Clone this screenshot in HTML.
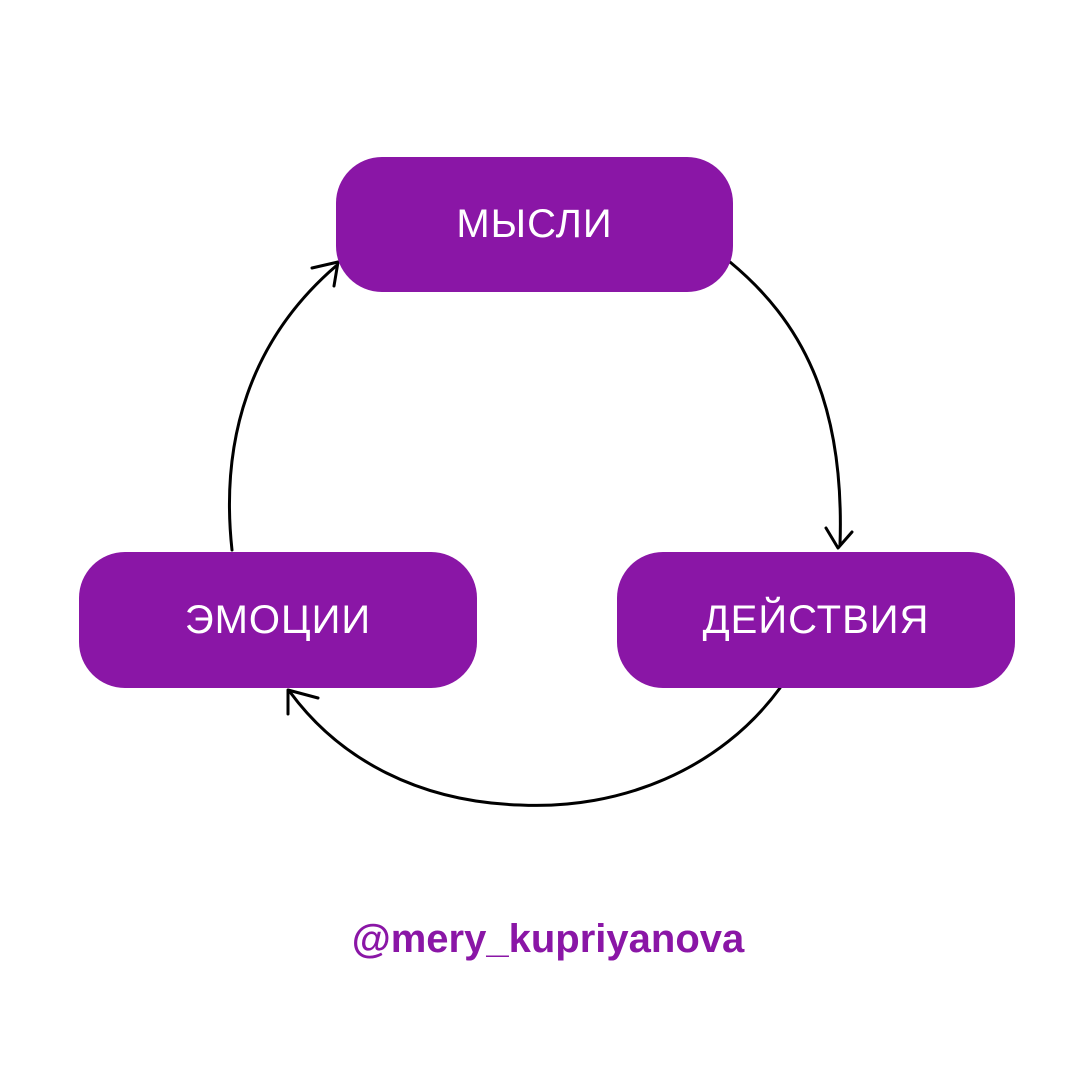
<!DOCTYPE html>
<html><head><meta charset="utf-8"><style>
html,body{margin:0;padding:0;background:#fff}
.w{position:relative;width:1080px;height:1080px;overflow:hidden;background:#fff}
.b{position:absolute;background:#8A16A6;border-radius:46px;color:#fff;font-family:"Liberation Sans",sans-serif;font-size:40px;font-weight:normal;display:flex;align-items:center;justify-content:center;letter-spacing:1px}
.h{position:absolute;left:0;width:1096px;top:917px;text-align:center;color:#8A16A6;font-family:"Liberation Sans",sans-serif;font-weight:bold;font-size:40px}
</style></head><body><div class="w">
<svg width="1080" height="1080" style="position:absolute;left:0;top:0" fill="none" stroke="#000" stroke-width="3" stroke-linecap="round" stroke-linejoin="round">
<path d="M730 262 C800 320 845 400 840 545"/>
<path d="M826 528 L838 548 L852 532"/>
<path d="M780 688 C720 770 620 810 520 805 C420 802 340 760 290 692"/>
<path d="M288 714 L288 690 L318 698"/>
<path d="M232 550 C220 440 250 340 336 266"/>
<path d="M312 268 L338 262 L334 286"/>
</svg>
<div class="b" style="left:336px;top:157px;width:397px;height:135px">МЫСЛИ</div>
<div class="b" style="left:79px;top:552px;width:398px;height:136px">ЭМОЦИИ</div>
<div class="b" style="left:617px;top:552px;width:398px;height:136px">ДЕЙСТВИЯ</div>
<div class="h">@mery_kupriyanova</div>
</div></body></html>
